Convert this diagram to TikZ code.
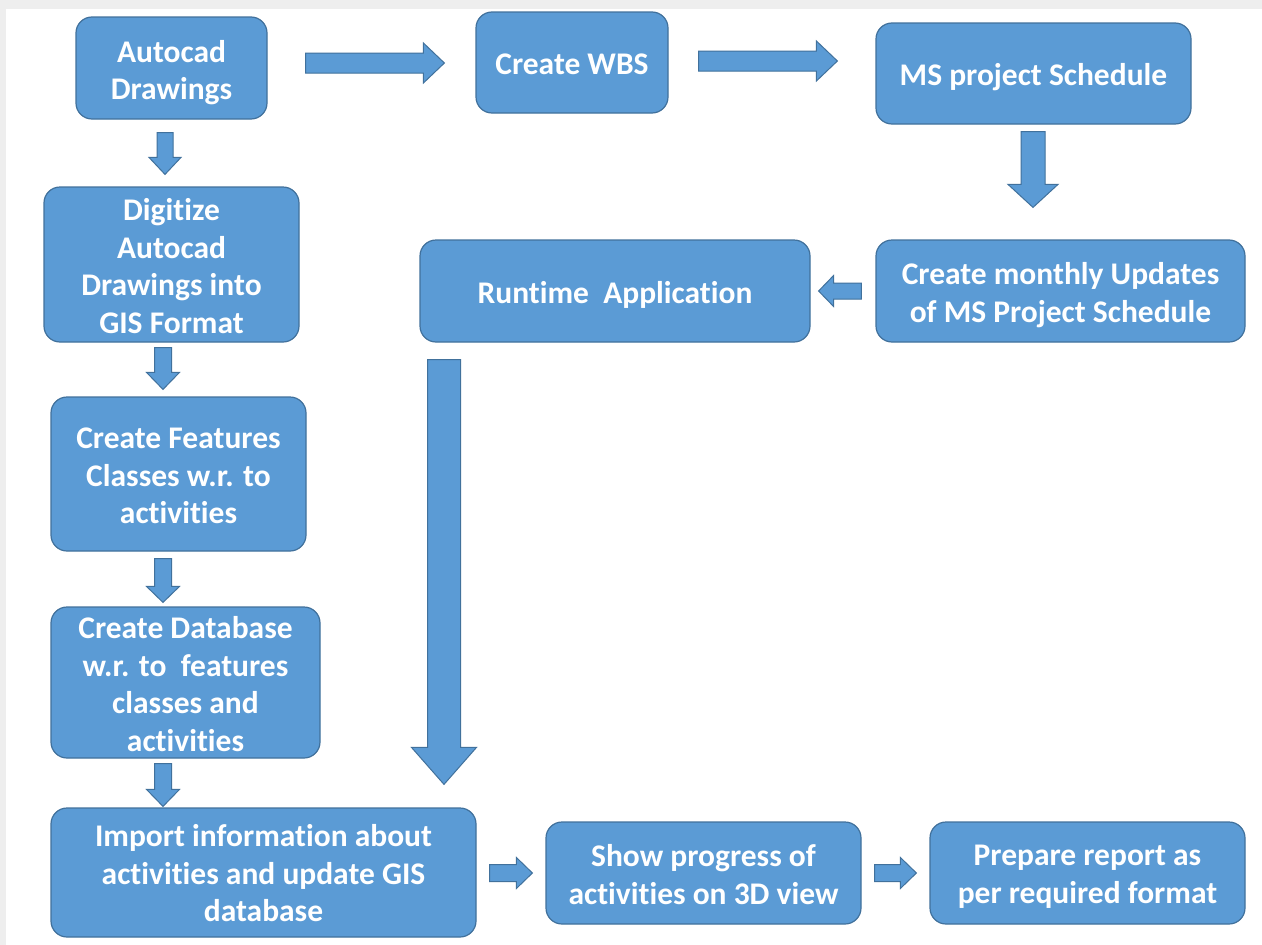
\documentclass[tikz,border=0pt]{standalone}
\usepackage{fontspec}
\setmainfont{Carlito}[Ligatures=NoCommon]
\usetikzlibrary{calc}

\definecolor{boxfill}{HTML}{5B9BD5}
\definecolor{boxline}{HTML}{41719C}
\definecolor{framegray}{HTML}{EEEEEE}

\tikzset{
  stepbox/.style={draw=boxline, line width=1.2pt, fill=boxfill,
    rounded corners=16pt, inner sep=0pt},
  steptext/.style={text=white, align=center, inner sep=0pt,
    font=\fontsize{31.5}{37.5}\selectfont\bfseries},
  % box with its caption, caption lowered by #1
  caption/.style 2 args={label={[steptext, yshift=-#1]center:{#2}}},
  blockarrow/.style={draw=boxline, line width=1pt, fill=boxfill, line join=miter},
}

% block arrow: #1 tail centre, #2 tip, #3 half shaft width,
% #4 half head width, #5 head length
\newcommand\flowarrow[5]{%
  \coordinate (fa-h) at ($(#2)!#5!(#1)$);
  \filldraw[blockarrow]
    ($(#1)!#3!90:(#2)$) -- ($(fa-h)!#3!90:(#2)$) -- ($(fa-h)!#4!90:(#2)$)
    -- (#2) -- ($(fa-h)!#4!-90:(#2)$) -- ($(fa-h)!#3!-90:(#2)$)
    -- ($(#1)!#3!-90:(#2)$) -- cycle;
}

\begin{document}
\begin{tikzpicture}[x=1pt, y=-1pt]
  \useasboundingbox (0,0) rectangle (1262,945);
  \fill[white] (0,0) rectangle (1262,945);
  \fill[framegray] (0,0) rectangle (1262,9);
  \fill[framegray] (0,0) rectangle (6,945);

  % process boxes
  \node[stepbox, minimum width=191pt, minimum height=102pt,
    caption={4.5pt}{Autocad\\Drawings}] (autocad) at (171.5,68) {};
  \node[stepbox, minimum width=192pt, minimum height=101pt,
    caption={2pt}{Create WBS}] (wbs) at (572,62.5) {};
  \node[stepbox, minimum width=315pt, minimum height=101pt,
    caption={4pt}{MS project Schedule}] (msp) at (1033.5,73.5) {};
  \node[stepbox, minimum width=255pt, minimum height=155pt,
    caption={1.5pt}{Digitize\\Autocad\\Drawings into\\GIS Format}] (digitize) at (171.5,264.5) {};
  \node[stepbox, minimum width=390pt, minimum height=102pt,
    caption={4pt}{Runtime\ \ Application}] (runtime) at (615,291) {};
  \node[stepbox, minimum width=369pt, minimum height=102pt,
    caption={4pt}{Create monthly Updates\\of MS Project Schedule}] (monthly) at (1060.5,291) {};
  \node[stepbox, minimum width=255pt, minimum height=154pt,
    caption={2pt}{Create Features\\Classes w.r. to\\activities}] (features) at (178.5,474) {};
  \node[stepbox, minimum width=269pt, minimum height=151pt,
    caption={1.5pt}{Create Database\\w.r. to\ \ features\\classes and\\activities}] (database) at (185.5,682.5) {};
  \node[stepbox, minimum width=425pt, minimum height=129pt,
    caption={1pt}{Import information about\\activities and update GIS\\database}] (import) at (263.5,872.5) {};
  \node[stepbox, minimum width=315pt, minimum height=102pt,
    caption={1.5pt}{Show progress of\\activities on 3D view}] (show) at (703.5,873) {};
  \node[stepbox, minimum width=315pt, minimum height=102pt,
    caption={4pt}{Prepare report as\\per required format}] (report) at (1087.5,873) {};

  % arrow end points
  \coordinate (a1s) at ($(autocad.east)+(38,-5)$);
  \coordinate (a1t) at ($(wbs.west)+(-31,0.5)$);
  \coordinate (a2s) at ($(wbs.east)+(30,-1.5)$);
  \coordinate (a2t) at ($(msp.west)+(-38,-12.5)$);
  \coordinate (a3s) at ($(autocad.south)+(-6.5,13)$);
  \coordinate (a3t) at ($(digitize.north)+(-6.5,-12)$);
  \coordinate (a4s) at ($(msp.south)+(-0.5,7)$);
  \coordinate (a4t) at ($(monthly.north)+(-27.5,-32)$);
  \coordinate (a5s) at ($(monthly.west)+(-14,0)$);
  \coordinate (a5t) at ($(runtime.east)+(8,0)$);
  \coordinate (a6s) at ($(runtime.south)+(-171,17)$);
  \coordinate (a6t) at ($(import.north)+(180.5,-23)$);
  \coordinate (a7s) at ($(digitize.south)+(-8.5,5)$);
  \coordinate (a7t) at ($(features.north)+(-15.5,-7)$);
  \coordinate (a8s) at ($(features.south)+(-15.5,7)$);
  \coordinate (a8t) at ($(database.north)+(-22.5,-4)$);
  \coordinate (a9s) at ($(database.south)+(-22.5,5)$);
  \coordinate (a9t) at ($(import.north)+(-100.5,-1)$);
  \coordinate (a10s) at ($(import.east)+(13,0.5)$);
  \coordinate (a10t) at ($(show.west)+(-13,0)$);
  \coordinate (a11s) at ($(show.east)+(13,0)$);
  \coordinate (a11t) at ($(report.west)+(-13,0)$);

  % connectors
  \flowarrow{a1s}{a1t}{10pt}{20pt}{21pt}
  \flowarrow{a2s}{a2t}{10pt}{20pt}{21pt}
  \flowarrow{a3s}{a3t}{8pt}{16pt}{17pt}
  \flowarrow{a4s}{a4t}{12pt}{25pt}{23pt}
  \flowarrow{a5s}{a5t}{8pt}{15.5pt}{15pt}
  \flowarrow{a6s}{a6t}{16.5pt}{32.5pt}{37pt}
  \flowarrow{a7s}{a7t}{8.5pt}{16.5pt}{17pt}
  \flowarrow{a8s}{a8t}{8.5pt}{16.5pt}{16pt}
  \flowarrow{a9s}{a9t}{8.5pt}{16.5pt}{17pt}
  \flowarrow{a10s}{a10t}{8.5pt}{15.5pt}{16pt}
  \flowarrow{a11s}{a11t}{8.5pt}{15.5pt}{16pt}
\end{tikzpicture}
\end{document}
